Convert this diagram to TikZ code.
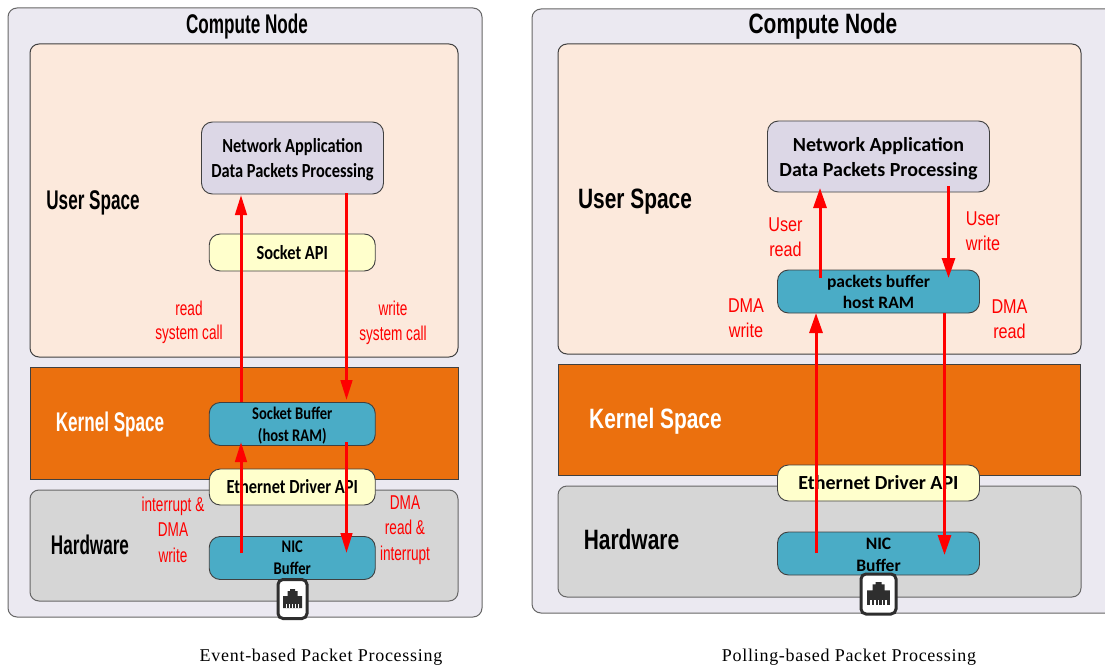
\documentclass[tikz,border=0pt]{standalone}
\usepackage{fontspec}
\usetikzlibrary{arrows.meta}
\setmainfont{Liberation Sans}
\newfontfamily\titleL[FakeStretch=0.634]{Liberation Sans Bold}
\newfontfamily\titleR[FakeStretch=0.747]{Liberation Sans Bold}
\newfontfamily\redL[FakeStretch=0.68]{Liberation Sans}
\newfontfamily\redR[FakeStretch=0.81]{Liberation Sans}
\newfontfamily\boxL[FakeStretch=0.82]{Carlito Bold}
\newfontfamily\boxR{Carlito Bold}
\newfontfamily\capfont[LetterSpace=4]{Liberation Serif}
\definecolor{outerc}{HTML}{EBE9F1}
\definecolor{userc}{HTML}{FCE9DC}
\definecolor{kernelc}{HTML}{EB700E}
\definecolor{hwc}{HTML}{D6D6D6}
\definecolor{appc}{HTML}{DCD7E6}
\definecolor{apic}{HTML}{FFFFCC}
\definecolor{bufc}{HTML}{4AACC6}
\definecolor{edgec}{HTML}{404040}
\definecolor{iconc}{HTML}{2E2E2E}
\tikzset{
  panel/.style={draw=#1,rounded corners=9pt,line width=1pt,inner sep=0pt,outer sep=0pt},
  boxn/.style={draw=edgec,line width=0.9pt,rounded corners=11pt,inner sep=0pt,outer sep=0pt,align=center},
  lab/.style={inner sep=0pt,outer sep=0pt,align=center},
  redtxt/.style={lab,text=red},
  arr/.style={draw=red,line width=3pt,-{Triangle[length=20pt,width=#1]}},
  arr/.default=11.5pt,
  rjbox/.style={draw=iconc,fill=white,line width=3pt,rounded corners=5pt,inner sep=0pt,outer sep=0pt},
}
\newcommand{\dnline}[2]{\raisebox{-#1}[\height][\depth]{#2}}
\newcommand{\panelbox}[7]{% name, x0, y0, x1, y1, fill, draw
  \node[panel=#7,fill=#6,minimum width={(#4-#2)*1pt},minimum height={(#5-#3)*1pt}] (#1) at ({(#2+#4)/2},{(#3+#5)/2}) {};}
\newcommand{\rjicon}[2]{%
  \begin{scope}[shift={(#1.center)},scale=#2]
    \fill[iconc] (-9.5,-3) -- (-5,-3) -- (-5,-8) -- (-2.5,-8) -- (-2.5,-10) -- (2.5,-10) -- (2.5,-8) -- (5,-8) -- (5,-3) -- (9.5,-3) -- (9.5,9) -- (-9.5,9) -- cycle;
    \foreach \xx in {-6.2,-3.1,0,3.1,6.2} \fill[white] (\xx-0.6,5) rectangle (\xx+0.6,9.2);
  \end{scope}}
\begin{document}
\begin{tikzpicture}[x=1pt,y=-1pt]
\useasboundingbox (0,0) rectangle (1105,666);
\clip (0,0) rectangle (1105,666);
\fill[white] (0,0) rectangle (1105,666);
% LEFT PANEL
\panelbox{outerL}{8}{8}{482}{617}{outerc}{edgec!80}
\panelbox{userL}{30}{44}{458}{357}{userc}{edgec}
\node[draw=edgec,line width=0.8pt,fill=kernelc,inner sep=0pt,outer sep=0pt,minimum width=428pt,minimum height=112pt] (kernelL) at (244,423) {};
\panelbox{hwL}{30}{490}{458}{601}{hwc}{edgec!80}
\node[lab,font=\titleL\fontsize{27}{30}\selectfont] (titleL) at (247,27) {Compute Node};
\node[lab,font=\titleL\fontsize{27}{30}\selectfont] (spaceUL) at (93,203) {User Space};
\node[lab,font=\titleL\fontsize{27}{30}\selectfont,text=white] (spaceKL) at (110,425) {Kernel Space};
\node[lab,font=\titleL\fontsize{27}{30}\selectfont] (spaceHL) at (90,545) {Hardware};
\node[boxn,fill=appc,minimum width=182pt,minimum height=72pt,font=\boxL\fontsize{20}{25}\selectfont] (appL) at (292.5,158) {\dnline{2pt}{Network Application}\\\dnline{2pt}{Data Packets Processing}};
\node[boxn,fill=apic,minimum width=166pt,minimum height=37pt,font=\boxL\fontsize{20}{25}\selectfont] (sockL) at (292.25,252.5) {Socket API};
\node[boxn,fill=bufc,minimum width=166pt,minimum height=43pt,font=\boxL\fontsize{17.8}{22}\selectfont] (sbL) at (292.25,424) {\dnline{1.2pt}{Socket Buffer}\\\dnline{1.2pt}{(host RAM)}};
\node[boxn,fill=apic,minimum width=166pt,minimum height=36pt,font=\boxL\fontsize{20}{25}\selectfont] (ethL) at (292.25,487) {Ethernet Driver API};
\node[boxn,fill=bufc,minimum width=166pt,minimum height=43pt,font=\boxL\fontsize{17.8}{22}\selectfont] (nicL) at (292.25,558) {NIC\\Buffer};
\node[rjbox,minimum width=29pt,minimum height=39pt] (rjL) at (292.5,599) {};
\rjicon{rjL}{1}
\draw[arr] ([shift={(-51.25,-5)}]nicL.center) -- ([shift={(-51.25,18)}]sbL.center);
\draw[arr] ([shift={(-51.25,-22)}]sbL.center) -- ([shift={(-51.5,37)}]appL.center);
\draw[arr] ([shift={(54,35)}]appL.center) -- ([shift={(54.25,-24)}]sbL.center);
\draw[arr] ([shift={(54.25,18)}]sbL.center) -- ([shift={(54.25,-5)}]nicL.center);
\node[redtxt,font=\redL\fontsize{20}{24.5}\selectfont] (readL) at (189,322.5) {read\\system call};
\node[redtxt,font=\redL\fontsize{20}{24.5}\selectfont] (writeL) at (393,323) {write\\system call};
\node[redtxt,font=\redL\fontsize{20}{25.5}\selectfont] (intL) at (173,529.5) {interrupt \&\\DMA\\write};
\node[redtxt,font=\redL\fontsize{20}{25.5}\selectfont] (dmaL) at (405,530) {DMA\\read \&\\interrupt};
\node[lab,font=\capfont\fontsize{18}{20}\selectfont] (capL) at (321,657) {Event-based Packet Processing};
% RIGHT PANEL
\panelbox{outerR}{532}{9}{1125}{613}{outerc}{edgec!80}
\panelbox{userR}{558}{44}{1081}{354}{userc}{edgec}
\node[draw=edgec,line width=0.8pt,fill=kernelc,inner sep=0pt,outer sep=0pt,minimum width=522pt,minimum height=111pt] (kernelR) at (819,419.5) {};
\panelbox{hwR}{558}{486}{1081}{597}{hwc}{edgec!80}
\node[lab,font=\titleR\fontsize{28}{33}\selectfont] (titleR) at (823,26.5) {Compute Node};
\node[lab,font=\titleR\fontsize{28}{33}\selectfont] (spaceUR) at (635,201.5) {User Space};
\node[lab,font=\titleR\fontsize{28}{33}\selectfont,text=white] (spaceKR) at (655.5,421) {Kernel Space};
\node[lab,font=\titleR\fontsize{28}{33}\selectfont] (spaceHR) at (631.5,539.5) {Hardware};
\node[boxn,fill=appc,minimum width=222pt,minimum height=71pt,font=\boxR\fontsize{20}{25}\selectfont] (appR) at (878.5,156.5) {\dnline{2pt}{Network Application}\\\dnline{2pt}{Data Packets Processing}};
\node[boxn,fill=bufc,minimum width=202pt,minimum height=43pt,font=\boxR\fontsize{17.5}{21}\selectfont] (pbR) at (878.5,291.5) {packets buffer\\host RAM};
\node[boxn,fill=apic,minimum width=202pt,minimum height=36pt,font=\boxR\fontsize{20}{25}\selectfont] (ethR) at (878.5,483) {Ethernet Driver API};
\node[boxn,fill=bufc,minimum width=202pt,minimum height=43pt,font=\boxR\fontsize{17.5}{21.5}\selectfont] (nicR) at (878.5,553.5) {\dnline{1.5pt}{NIC}\\\dnline{1.5pt}{Buffer}};
\node[rjbox,minimum width=35pt,minimum height=40pt] (rjR) at (878.5,594) {};
\rjicon{rjR}{1.2}
\draw[arr=13pt] ([shift={(-58.5,-13.5)}]pbR.center) -- ([shift={(-58.5,31.5)}]appR.center);
\draw[arr=13pt] ([shift={(70,29.5)}]appR.center) -- ([shift={(70,-13.5)}]pbR.center);
\draw[arr=13pt] ([shift={(-62.5,-0.5)}]nicR.center) -- ([shift={(-62.5,21.5)}]pbR.center);
\draw[arr=13pt] ([shift={(66,21.5)}]pbR.center) -- ([shift={(66,1.5)}]nicR.center);
\node[redtxt,font=\redR\fontsize{20}{25}\selectfont] (userreadR) at (785.5,237.5) {User\\read};
\node[redtxt,font=\redR\fontsize{20}{25}\selectfont] (userwriteR) at (983,231.5) {User\\write};
\node[redtxt,font=\redR\fontsize{20}{25}\selectfont] (dmawriteR) at (746,318.5) {DMA\\write};
\node[redtxt,font=\redR\fontsize{20}{25}\selectfont] (dmareadR) at (1009.5,319.5) {DMA\\read};
\node[lab,font=\capfont\fontsize{18}{20}\selectfont] (capR) at (849,657) {Polling-based Packet Processing};
\end{tikzpicture}
\end{document}
